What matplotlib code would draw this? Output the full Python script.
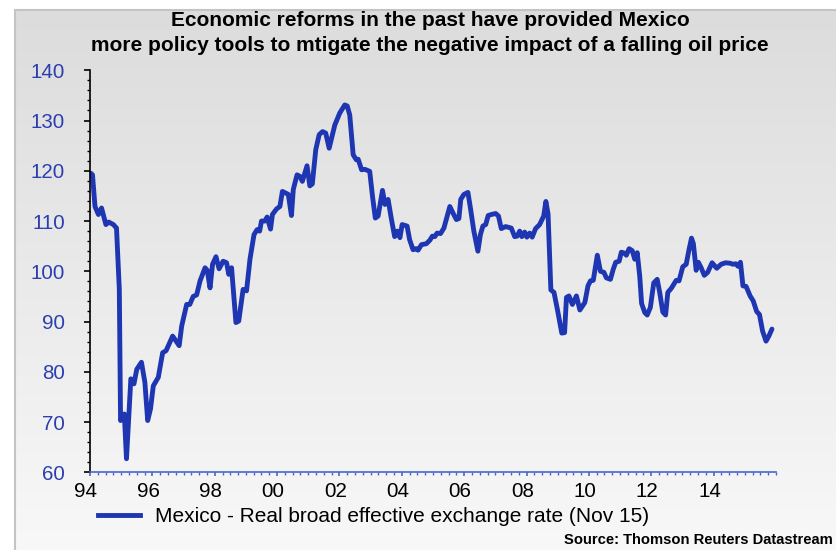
import numpy as np
import matplotlib
matplotlib.use("Agg")
import matplotlib.pyplot as plt
from matplotlib.ticker import MultipleLocator, FixedLocator
from matplotlib.lines import Line2D
from matplotlib.transforms import ScaledTranslation

plt.rcParams['font.family'] = ['Liberation Sans', 'DejaVu Sans']

# Mexico real broad effective exchange rate (decimal year, index level)
dates = [
    1994.03, 1994.08, 1994.16, 1994.27, 1994.37, 1994.51, 1994.60, 1994.75, 1994.85,
    1994.94, 1994.98, 1995.10, 1995.17, 1995.31, 1995.41, 1995.50, 1995.65, 1995.76,
    1995.85, 1995.94, 1996.03, 1996.19, 1996.33, 1996.44, 1996.65, 1996.86, 1996.94,
    1997.10, 1997.20, 1997.31, 1997.42, 1997.53, 1997.69, 1997.76, 1997.85, 1997.93,
    1998.04, 1998.14, 1998.27, 1998.38, 1998.45, 1998.54, 1998.68, 1998.77, 1998.91,
    1999.02, 1999.13, 1999.26, 1999.36, 1999.44, 1999.50, 1999.61, 1999.68, 1999.79,
    1999.85, 1999.98, 2000.09, 2000.17, 2000.36, 2000.46, 2000.52, 2000.64, 2000.73,
    2000.81, 2000.96, 2001.05, 2001.13, 2001.24, 2001.35, 2001.46, 2001.56, 2001.67,
    2001.85, 2002.01, 2002.17, 2002.25, 2002.33, 2002.44, 2002.54, 2002.60, 2002.71,
    2002.81, 2002.97, 2003.06, 2003.15, 2003.24, 2003.38, 2003.46, 2003.56, 2003.66,
    2003.77, 2003.86, 2003.94, 2004.01, 2004.17, 2004.25, 2004.36, 2004.46, 2004.52,
    2004.63, 2004.79, 2004.90, 2004.98, 2005.06, 2005.13, 2005.24, 2005.35, 2005.43,
    2005.54, 2005.64, 2005.75, 2005.83, 2005.89, 2005.99, 2006.12, 2006.20, 2006.31,
    2006.44, 2006.52, 2006.60, 2006.69, 2006.77, 2006.87, 2007.01, 2007.10, 2007.19,
    2007.33, 2007.51, 2007.62, 2007.70, 2007.78, 2007.85, 2007.94, 2008.01, 2008.10,
    2008.18, 2008.29, 2008.42, 2008.55, 2008.62, 2008.69, 2008.78, 2008.88, 2008.99,
    2009.13, 2009.22, 2009.28, 2009.36, 2009.47, 2009.60, 2009.71, 2009.87, 2009.97,
    2010.05, 2010.14, 2010.27, 2010.37, 2010.48, 2010.56, 2010.69, 2010.78, 2010.86,
    2010.97, 2011.04, 2011.15, 2011.20, 2011.29, 2011.39, 2011.47, 2011.55, 2011.63,
    2011.69, 2011.79, 2011.87, 2011.97, 2012.08, 2012.19, 2012.27, 2012.37, 2012.46,
    2012.53, 2012.64, 2012.80, 2012.89, 2013.01, 2013.12, 2013.21, 2013.29, 2013.35,
    2013.44, 2013.51, 2013.60, 2013.70, 2013.81, 2013.95, 2014.10, 2014.24, 2014.38,
    2014.53, 2014.62, 2014.71, 2014.78, 2014.86, 2014.94, 2015.04, 2015.17, 2015.27,
    2015.38, 2015.47, 2015.57, 2015.68, 2015.77, 2015.87,
]
rer = [
    119.5, 119.2, 112.9, 111.3, 112.6, 109.3, 109.8, 109.3, 108.6,
    96.4, 70.3, 71.6, 62.7, 78.6, 77.6, 80.5, 81.9, 77.9,
    70.3, 72.6, 77.2, 78.9, 83.8, 84.2, 87.1, 85.2, 89.1,
    93.4, 93.4, 95.0, 95.3, 98.1, 100.7, 100.2, 96.7, 101.4,
    102.9, 100.5, 102.0, 101.7, 99.4, 100.7, 89.8, 90.1, 96.4,
    96.1, 102.4, 107.3, 108.3, 108.0, 110.0, 110.0, 110.8, 108.4,
    111.3, 112.4, 112.9, 115.9, 115.3, 111.1, 116.3, 119.2, 118.9,
    117.9, 121.0, 117.0, 117.4, 124.2, 127.2, 127.8, 127.5, 124.5,
    129.1, 131.5, 133.1, 132.9, 131.1, 123.2, 122.2, 122.3, 120.2,
    120.3, 119.9, 114.9, 110.6, 111.0, 116.1, 113.3, 114.3, 110.6,
    106.9, 108.0, 106.7, 109.3, 109.0, 106.3, 104.3, 104.5, 104.2,
    105.3, 105.5, 106.2, 107.0, 106.9, 107.6, 107.5, 108.6, 110.4,
    112.9, 111.6, 110.3, 110.5, 114.3, 115.3, 115.7, 112.6, 108.0,
    104.0, 107.3, 109.0, 109.3, 111.1, 111.3, 111.5, 111.0, 108.5,
    108.9, 108.6, 106.9, 107.0, 108.0, 106.9, 107.8, 106.8, 107.6,
    106.8, 108.5, 109.3, 111.0, 113.9, 111.4, 96.3, 95.8, 92.4,
    87.7, 87.8, 94.8, 95.1, 93.4, 95.1, 92.3, 93.8, 97.1,
    98.1, 98.2, 103.2, 100.0, 99.8, 98.7, 98.4, 100.4, 101.8,
    102.0, 103.8, 103.6, 103.2, 104.5, 104.1, 102.4, 103.7, 99.0,
    93.6, 91.8, 91.3, 92.8, 97.7, 98.4, 95.8, 91.9, 91.3,
    95.8, 96.6, 98.2, 98.1, 100.9, 101.4, 104.3, 106.6, 105.5,
    100.2, 101.8, 100.7, 99.2, 99.8, 101.7, 100.6, 101.4, 101.7,
    101.6, 101.4, 101.5, 101.0, 101.8, 97.1, 97.0, 95.1, 94.1,
    92.0, 91.4, 88.1, 86.1, 87.1, 88.5,
]

year_ticks = [1994, 1996, 1998, 2000, 2002, 2004, 2006, 2008, 2010, 2012, 2014]
year_labels = ["94", "96", "98", "00", "02", "04", "06", "08", "10", "12", "14"]
value_ticks = [60, 70, 80, 90, 100, 110, 120, 130, 140]

title_text = ("Economic reforms in the past have provided Mexico\n"
              "more policy tools to mtigate the negative impact of a falling oil price")
series_label = "Mexico - Real broad effective exchange rate (Nov 15)"
source_text = "Source: Thomson Reuters Datastream"

LINE_BLUE = "#1f36b3"
LABEL_BLUE = "#2b3fb0"
AXIS_BLUE = "#4a66d0"

W, H = 837, 550
fig = plt.figure(figsize=(W / 100, H / 100), dpi=100)
fig.patch.set_facecolor("white")

# grey-to-white gradient panel behind everything
bg = fig.add_axes([15 / W, 0, 1 - 15 / W, 1 - 10 / H], zorder=0)
grad = np.linspace(0, 1, 256).reshape(-1, 1)
top_c = np.array([220, 220, 220]) / 255
bot_c = np.array([248, 248, 248]) / 255
img = top_c[None, None, :] * (1 - grad[:, :, None]) + bot_c[None, None, :] * grad[:, :, None]
bg.imshow(img, aspect="auto", extent=[0, 1, 0, 1], origin="upper")
bg.set_xlim(0, 1)
bg.set_ylim(0, 1)
bg.axis("off")
fig.add_artist(Line2D([15 / W, 15 / W], [0, 1 - 10 / H], color="#c4c4c4", lw=1.5, zorder=1))
fig.add_artist(Line2D([15 / W, 1], [1 - 10 / H, 1 - 10 / H], color="#c4c4c4", lw=1.5, zorder=1))

ax = fig.add_axes([90 / W, 77.7 / H, (776 - 90) / W, (472.3 - 70.3) / H], zorder=2)
ax.patch.set_alpha(0)

ax.plot(dates, rer, color=LINE_BLUE, lw=3.5, solid_joinstyle="round", solid_capstyle="round")

ax.set_xlim(1994, 2016)
ax.set_ylim(60, 140)

ax.xaxis.set_major_locator(FixedLocator(year_ticks))
ax.set_xticklabels(year_labels)
ax.xaxis.set_minor_locator(MultipleLocator(0.25))
ax.yaxis.set_major_locator(FixedLocator(value_ticks))
ax.yaxis.set_minor_locator(MultipleLocator(2))

for s in ("top", "right"):
    ax.spines[s].set_visible(False)
ax.spines["left"].set_color("black")
ax.spines["left"].set_linewidth(1.2)
ax.spines["bottom"].set_color(AXIS_BLUE)
ax.spines["bottom"].set_linewidth(1.2)

ax.tick_params(axis="y", which="major", direction="out", length=4, width=1.2,
               color="black", labelcolor=LABEL_BLUE, labelsize=14.8, pad=14)
ax.tick_params(axis="y", which="minor", direction="out", length=2.2, width=1.0, color="black")
ax.tick_params(axis="x", which="major", direction="out", length=3, width=1.2,
               color=AXIS_BLUE, labelcolor="black", labelsize=14.8, pad=4)
ax.tick_params(axis="x", which="minor", direction="out", length=2, width=1.0, color=AXIS_BLUE)

shift = ScaledTranslation(-4 / 100, 0, fig.dpi_scale_trans)
for lbl in ax.get_xticklabels():
    lbl.set_transform(lbl.get_transform() + shift)

fig.text(430 / W, 1 - 33 / H, title_text, ha="center", va="center", fontsize=15,
         fontweight="bold", color="black", linespacing=1.42)

handle = Line2D([], [], color=LINE_BLUE, lw=3.5)
fig.legend([handle], [series_label], loc="center left",
           bbox_to_anchor=(98 / W, 1 - 517 / H), frameon=False, fontsize=15.0,
           handlelength=2.0, handletextpad=0.75, borderpad=0, borderaxespad=0)

fig.text(833 / W, 1 - 540 / H, source_text, ha="right", va="center", fontsize=10.6,
         fontweight="bold", color="black")

fig.savefig("out.png", dpi=100)
